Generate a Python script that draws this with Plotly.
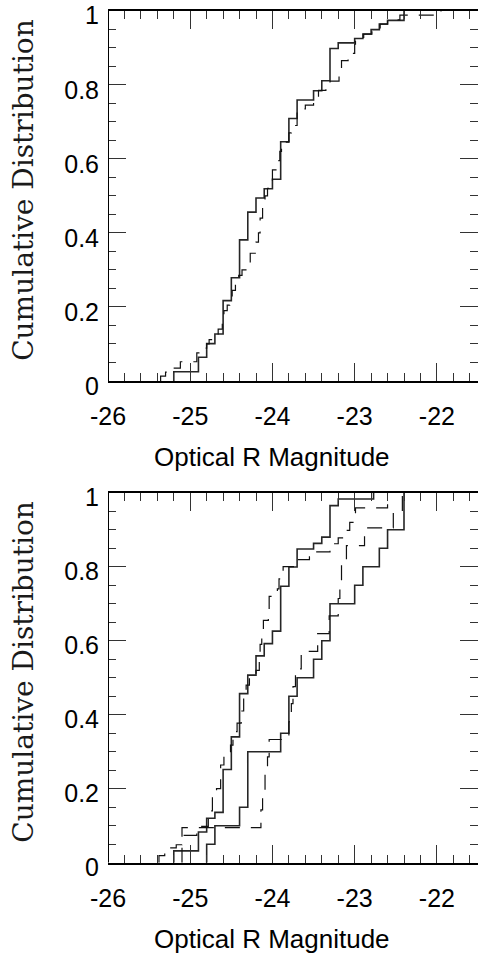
import plotly.graph_objects as go

# ---------------- data ----------------
# Top panel
top_solid_mag = [-25.2, -24.9, -24.8, -24.7, -24.6, -24.5, -24.4, -24.3, -24.2, -24.1,
                 -24.0, -23.9, -23.8, -23.7, -23.5, -23.4, -23.3, -23.2, -23.0, -22.9,
                 -22.8, -22.7, -22.6, -22.4]
top_solid_cum = [0.025, 0.064, 0.101, 0.127, 0.217, 0.279, 0.381, 0.456, 0.494, 0.519,
                 0.545, 0.646, 0.709, 0.759, 0.784, 0.811, 0.898, 0.913, 0.925, 0.937,
                 0.949, 0.964, 0.974, 1.0]

top_dash_mag = [-25.36, -25.30, -25.26, -25.12, -24.92, -24.87, -24.80, -24.77, -24.72,
                -24.66, -24.61, -24.59, -24.55, -24.52, -24.49, -24.45, -24.41, -24.37,
                -24.31, -24.27, -24.20, -24.17, -24.15, -24.12, -24.09, -24.06, -24.02,
                -24.00, -23.95, -23.91, -23.89, -23.80, -23.77, -23.70, -23.60, -23.50,
                -23.44, -23.35, -23.30, -23.19, -23.16, -23.08, -23.00, -22.99, -22.89,
                -22.79, -22.69, -22.60, -22.45, -21.95]
top_dash_cum = [0.013, 0.024, 0.035, 0.052, 0.076, 0.089, 0.10, 0.112, 0.125,
                0.14, 0.165, 0.19, 0.205, 0.225, 0.245, 0.265, 0.285, 0.30,
                0.315, 0.345, 0.375, 0.40, 0.44, 0.475, 0.50, 0.52, 0.535,
                0.57, 0.595, 0.62, 0.645, 0.67, 0.69, 0.735, 0.745, 0.765,
                0.785, 0.80, 0.81, 0.84, 0.865, 0.885, 0.91, 0.925, 0.937,
                0.95, 0.964, 0.975, 0.988, 1.0]

# Bottom panel
bot_solid_a_mag = [-25.2, -24.9, -24.8, -24.7, -24.6, -24.5, -24.4, -24.3, -24.2, -24.1,
                   -24.0, -23.9, -23.8, -23.7, -23.5, -23.4, -23.3, -23.2, -22.77]
bot_solid_a_cum = [0.032, 0.083, 0.12, 0.136, 0.252, 0.34, 0.457, 0.507, 0.559, 0.592,
                   0.626, 0.747, 0.799, 0.848, 0.863, 0.88, 0.965, 0.983, 1.0]

bot_dash_a_mag = [-25.38, -25.31, -25.17, -25.10, -24.92, -24.86, -24.78, -24.73, -24.68,
                  -24.63, -24.59, -24.54, -24.51, -24.48, -24.43, -24.38, -24.35, -24.32,
                  -24.28, -24.20, -24.16, -24.15, -24.13, -24.11, -24.05, -24.04, -23.94,
                  -23.92, -23.87, -23.73, -23.55, -23.30, -23.20, -23.09, -23.06, -22.99,
                  -22.60]
bot_dash_a_cum = [0.019, 0.04, 0.0485, 0.074, 0.084, 0.098, 0.14, 0.179, 0.20,
                  0.264, 0.29, 0.30, 0.318, 0.354, 0.377, 0.41, 0.445, 0.48,
                  0.507, 0.52, 0.556, 0.59, 0.62, 0.655, 0.68, 0.72, 0.74,
                  0.767, 0.80, 0.819, 0.84, 0.862, 0.878, 0.898, 0.92, 0.959,
                  1.0]

bot_solid_b_mag = [-24.8, -24.7, -24.4, -24.3, -23.9, -23.8, -23.7, -23.5, -23.4, -23.3,
                   -23.0, -22.9, -22.7, -22.6, -22.4]
bot_solid_b_cum = [0.05, 0.10, 0.15, 0.30, 0.35, 0.45, 0.50, 0.55, 0.60, 0.70,
                   0.75, 0.80, 0.85, 0.90, 1.0]

bot_dash_b_mag = [-25.10, -24.14, -24.12, -24.09, -24.06, -24.04, -23.80, -23.77, -23.75,
                  -23.72, -23.65, -23.45, -23.31, -23.20, -23.18, -23.16, -23.10, -22.88,
                  -22.53, -22.42]
bot_dash_b_cum = [0.095, 0.143, 0.19, 0.238, 0.286, 0.333, 0.381, 0.43, 0.476,
                  0.524, 0.571, 0.619, 0.667, 0.714, 0.762, 0.81, 0.857, 0.905,
                  0.952, 1.0]

x_ticks = [-26, -25, -24, -23, -22]
x_range = [-26, -21.5]
y_title = "Cumulative Distribution"
x_title = "Optical R Magnitude"

# ---------------- figure ----------------
W, H = 478, 957
fig = go.Figure()

SOLID = dict(color="#262626", width=1.6)
DASH = dict(color="#111111", width=1.2, dash="15px,11px")


def add_cdf(mag, cum, line, xa, ya):
    xs = [mag[0]] + list(mag)
    ys = [0.0] + list(cum)
    fig.add_trace(go.Scatter(x=xs, y=ys, mode="lines", line=dict(shape="hv", **line),
                             xaxis=xa, yaxis=ya, showlegend=False, hoverinfo="skip"))


add_cdf(top_solid_mag, top_solid_cum, SOLID, "x", "y")
add_cdf(top_dash_mag, top_dash_cum, DASH, "x", "y")
add_cdf(bot_solid_a_mag, bot_solid_a_cum, SOLID, "x2", "y2")
add_cdf(bot_dash_a_mag, bot_dash_a_cum, DASH, "x2", "y2")
add_cdf(bot_solid_b_mag, bot_solid_b_cum, SOLID, "x2", "y2")
add_cdf(bot_dash_b_mag, bot_dash_b_cum, DASH, "x2", "y2")

L, R = 108, 0
top_px = (10.7, 381.0)
bot_px = (492.7, 862.7)


def dom(p):
    return [1 - p[1] / H, 1 - p[0] / H]


tickfont = dict(family="Liberation Sans, Arial, sans-serif", size=25, color="black")

xcommon = dict(range=x_range, tickmode="array", tickvals=x_ticks,
               ticktext=[str(v) for v in x_ticks], automargin=False,
               ticks="inside", ticklen=18, tickwidth=1.3, tickcolor="#333",
               showline=True, linewidth=2, linecolor="black", mirror="ticks",
               showgrid=False, zeroline=False, tickfont=tickfont,
               ticklabelstandoff=12,
               minor=dict(dtick=0.2, tick0=-26, ticks="inside", ticklen=8,
                          tickwidth=1.3, tickcolor="#333", showgrid=False))
ycommon = dict(range=[0, 1], tickmode="linear", tick0=0, dtick=0.2, automargin=False,
               ticks="inside", ticklen=18, tickwidth=1.3, tickcolor="#333",
               showline=False, mirror="ticks", showgrid=False, zeroline=False,
               tickfont=tickfont, ticklabelstandoff=8, ticklabelshift=5,
               ticklabeloverflow="allow",
               minor=dict(dtick=0.05, tick0=0, ticks="inside", ticklen=8,
                          tickwidth=1.3, tickcolor="#333", showgrid=False))

fig.update_layout(
    width=W, height=H,
    margin=dict(l=L, r=R, t=0, b=0, pad=0, autoexpand=False),
    paper_bgcolor="white", plot_bgcolor="white",
    xaxis=dict(domain=[0, 1], anchor="y", **xcommon),
    yaxis=dict(domain=dom(top_px), anchor="x", **ycommon),
    xaxis2=dict(domain=[0, 1], anchor="y2", **xcommon),
    yaxis2=dict(domain=dom(bot_px), anchor="x2", **ycommon),
)

# left frame lines (right side has only mirrored ticks)
for xa, ya in (("x", "y"), ("x2", "y2")):
    fig.add_shape(type="line", xref=xa, yref=ya, x0=-26, x1=-26, y0=0, y1=1,
                  line=dict(color="black", width=2), layer="above")

ytitle_font = dict(family="DejaVu Serif, serif", size=28, color="#1a1a1a")
xtitle_font = dict(family="Liberation Sans, Arial, sans-serif", size=26, color="black")
for p, xa in ((top_px, "x"), (bot_px, "x2")):
    yc = (p[0] + p[1]) / 2 - 6
    fig.add_annotation(text=y_title, textangle=-90, xref="paper", yref="paper",
                       x=(24 - L) / (W - L - R), y=1 - yc / H,
                       xanchor="center", yanchor="middle", showarrow=False,
                       font=ytitle_font)
    fig.add_annotation(text=x_title, xref=xa, yref="paper", x=-24,
                       y=1 - (p[1] + 76) / H, xanchor="center", yanchor="middle",
                       showarrow=False, font=xtitle_font)

fig.write_html("out.html", config={"displayModeBar": False},
               post_script="document.body.style.margin='0px';")
